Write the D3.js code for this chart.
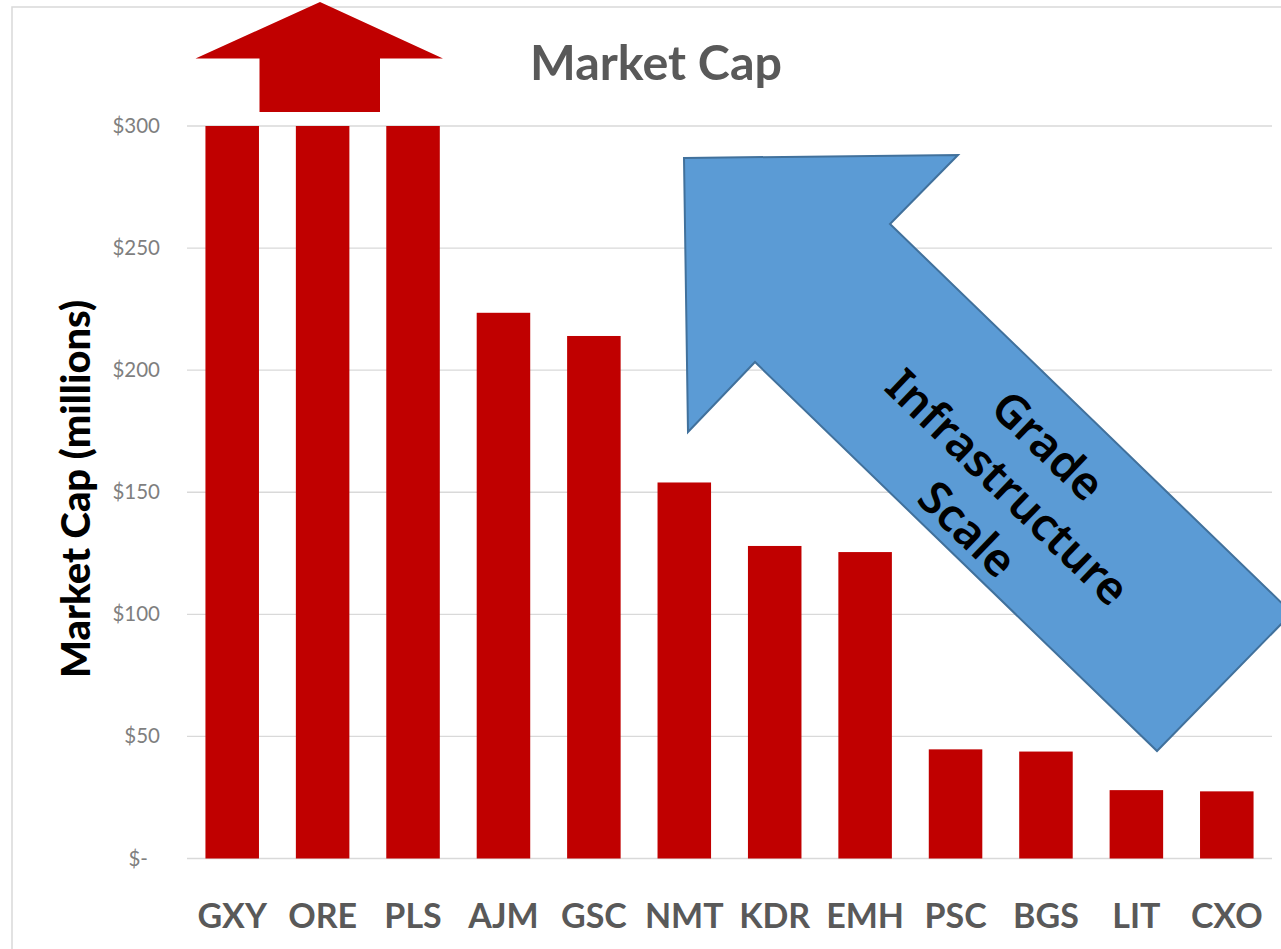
<!DOCTYPE html>
<html>
<head>
<meta charset="utf-8">
<script src="https://cdn.jsdelivr.net/npm/d3@7"></script>
<style>
  body { margin: 0; background: #fff; }
  svg { display: block; }
</style>
</head>
<body>
<div id="viz"></div>
<script>
// chart data (the first three bars are cut off at the top of the axis)
const tickers = ["GXY", "ORE", "PLS", "AJM", "GSC", "NMT", "KDR", "EMH", "PSC", "BGS", "LIT", "CXO"];
const marketCap = [300, 300, 300, 223.5, 214, 154, 128, 125.5, 44.7, 43.8, 28, 27.5];
const yTicks = [0, 50, 100, 150, 200, 250, 300];
const arrowLines = ["Grade", "Infrastructure", "Scale"];

const width = 1281, height = 949;
const plotLeft = 187, plotRight = 1272, plotTop = 126, plotBottom = 858.5;

const svg = d3.select("#viz")
    .append("svg")
    .attr("width", width)
    .attr("height", height);

// shrink or grow a text's font so it spans the wanted width
const fit = (sel, w) => {
    const fs = parseFloat(sel.attr("font-size"));
    const len = sel.node().getComputedTextLength();
    sel.attr("font-size", fs * w / len);
    return sel;
};

// chart border
svg.append("rect")
    .attr("x", 12).attr("y", 7)
    .attr("width", 1300).attr("height", 960)
    .attr("fill", "none")
    .attr("stroke", "#d9d9d9")
    .attr("stroke-width", 1.5);

const x = d3.scaleBand()
    .domain(tickers)
    .range([plotLeft, plotRight])
    .paddingInner(0.408)
    .paddingOuter(0.204);

const y = d3.scaleLinear()
    .domain([0, 300])
    .range([plotBottom, plotTop]);

// gridlines
svg.append("g")
    .selectAll("line")
    .data(yTicks)
    .join("line")
    .attr("x1", plotLeft).attr("x2", plotRight)
    .attr("y1", d => y(d)).attr("y2", d => y(d))
    .attr("stroke", "#d9d9d9")
    .attr("stroke-width", 1.3);

// y tick labels
svg.append("g")
    .selectAll("text")
    .data(yTicks)
    .join("text")
    .attr("x", d => d === 0 ? 148 : 160)
    .attr("y", d => y(d) + 7)
    .attr("text-anchor", "end")
    .attr("font-family", "Lato")
    .attr("font-size", 20.5)
    .attr("fill", "#7f7f7f")
    .text(d => d === 0 ? "$-" : "$" + d);

// bars
svg.append("g")
    .selectAll("rect")
    .data(marketCap)
    .join("rect")
    .attr("x", (d, i) => x(tickers[i]))
    .attr("y", d => y(d))
    .attr("width", x.bandwidth())
    .attr("height", d => y(0) - y(d))
    .attr("fill", "#c00000");

// x labels
svg.append("g")
    .selectAll("text")
    .data(tickers)
    .join("text")
    .attr("x", d => x(d) + x.bandwidth() / 2)
    .attr("y", 928)
    .attr("text-anchor", "middle")
    .attr("font-family", "Lato")
    .attr("font-weight", "bold")
    .attr("font-size", 34)
    .attr("fill", "#595959")
    .text(d => d);

// title
fit(svg.append("text")
    .attr("x", 656)
    .attr("y", 80)
    .attr("text-anchor", "middle")
    .attr("font-family", "Lato")
    .attr("font-weight", "bold")
    .attr("font-size", 48)
    .attr("fill", "#595959")
    .text("Market Cap"), 252);

// y axis title
fit(svg.append("text")
    .attr("transform", "translate(90,489) rotate(-90)")
    .attr("text-anchor", "middle")
    .attr("font-family", "Lato")
    .attr("font-weight", 900)
    .attr("font-size", 40)
    .attr("fill", "#000")
    .text("Market Cap (millions)"), 378);

// red "off the chart" arrow above the first three bars
svg.append("polygon")
    .attr("points", [[320, 2], [443, 58.5], [380, 58.5], [380, 112], [259.5, 112], [259.5, 58.5], [195.5, 58.5]].join(" "))
    .attr("fill", "#c00000");

// blue trend arrow
svg.append("polygon")
    .attr("points", [[684, 158], [958, 155], [890, 224], [1292, 613], [1157, 751], [755, 362], [688, 432]].join(" "))
    .attr("fill", "#5b9bd5")
    .attr("stroke", "#41719c")
    .attr("stroke-width", 2)
    .attr("stroke-linejoin", "miter");

const angle = 44;
const nx = Math.sin(angle * Math.PI / 180), ny = -Math.cos(angle * Math.PI / 180);
const cx = 1009, cy = 486, gap = 58;
const arrowText = svg.append("g")
    .attr("font-family", "Noto Sans")
    .attr("font-weight", 600)
    .attr("fill", "#000");
const labels = arrowLines.map((t, i) => {
    const off = (1 - i) * gap;
    return arrowText.append("text")
        .attr("transform", `translate(${cx + nx * off},${cy + ny * off}) rotate(${angle})`)
        .attr("text-anchor", "middle")
        .attr("dominant-baseline", "central")
        .attr("font-size", 40)
        .text(t);
});
// one size for all three lines, set by the longest one
fit(labels[1], 316);
labels.forEach(l => l.attr("font-size", labels[1].attr("font-size")));
</script>
</body>
</html>
